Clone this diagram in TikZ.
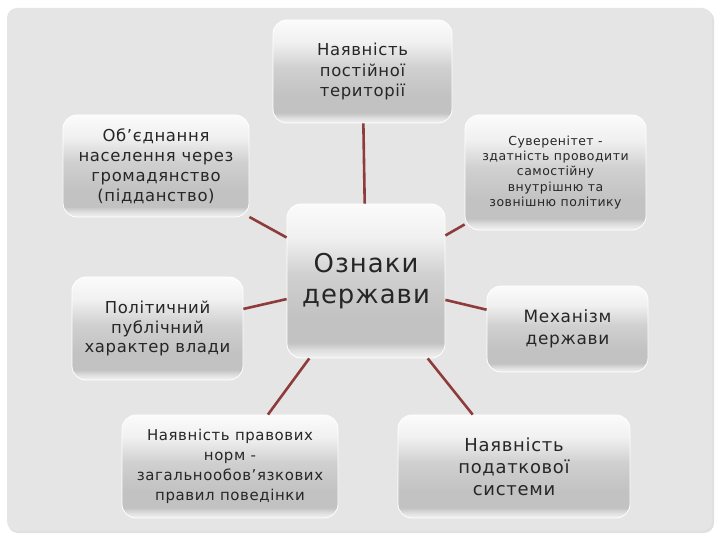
\documentclass[tikz,border=0pt]{standalone}
\usepackage{fontspec}
\setmainfont{DejaVu Sans}[LetterSpace=4]
\definecolor{bgc}{HTML}{E5E5E5}
\definecolor{linec}{HTML}{8E3B3B}
\definecolor{shTop}{HTML}{FBFBFB}
\definecolor{shMid}{HTML}{D0D0D0}
\definecolor{shLow}{HTML}{C2C2C2}
\definecolor{shBot}{HTML}{F2F2F2}
\pgfdeclareverticalshading{boxshade}{100bp}{%
  color(0bp)=(shBot); color(25bp)=(shBot); color(27.5bp)=(shBot!60!shLow); color(30bp)=(shLow);
  color(38bp)=(shLow); color(52bp)=(shMid); color(64bp)=(shTop!75!shMid);
  color(75bp)=(shTop); color(100bp)=(shTop)}
\tikzset{
  box/.style={draw=white, line width=0.8bp, rounded corners=14bp, shading=boxshade,
    align=center, inner sep=0pt, text=black!85},
  link/.style={draw=linec, line width=2.6bp},
}
\begin{document}
\begin{tikzpicture}[x=1bp,y=-1bp]
\useasboundingbox (0,0) rectangle (720,540);
\fill[white] (0,0) rectangle (720,540);
\fill[black!12, rounded corners=10bp] (8,10) rectangle (714,533);
\fill[bgc, rounded corners=10bp] (7,8) rectangle (712,531);

\node[box, minimum width=179bp, minimum height=103bp, font=\fontsize{16.5}{21}\selectfont] (terr) at (362.5,71.5) {Наявність\\постійної\\території};
\node[box, minimum width=186bp, minimum height=102bp, font=\fontsize{16.5}{20}\selectfont] (ob) at (156,166) {Об’єднання\\населення через\\громадянство\\(підданство)};
\node[box, minimum width=181bp, minimum height=115bp, font=\fontsize{12.5}{15.5}\selectfont] (suv) at (555.5,172.5) {Суверенітет -\\здатність проводити\\самостійну\\внутрішню та\\зовнішню політику};
\node[box, minimum width=158bp, minimum height=154bp, font=\fontsize{26}{31}\selectfont] (cen) at (366,281) {Ознаки\\держави};
\node[box, minimum width=171bp, minimum height=103bp, font=\fontsize{16.5}{20}\selectfont] (pol) at (157.5,328.5) {Політичний\\публічний\\характер влади};
\node[box, minimum width=216bp, minimum height=103bp, font=\fontsize{15}{20}\selectfont] (pr) at (230,466.5) {Наявність правових\\норм -\\загальнообов’язкових\\правил поведінки};
\node[box, minimum width=161bp, minimum height=86bp, font=\fontsize{17}{22}\selectfont] (mech) at (567.5,329) {Механізм\\держави};
\node[box, minimum width=232bp, minimum height=103bp, font=\fontsize{18}{22}\selectfont] (pod) at (514,466.5) {Наявність\\податкової\\системи};

\draw[link] (cen) -- (terr);
\draw[link] (cen) -- (ob);
\draw[link] (cen) -- (suv);
\draw[link] (cen) -- (pol);
\draw[link] (cen) -- (pr);
\draw[link] (cen) -- (mech);
\draw[link] (cen) -- (pod);
\end{tikzpicture}
\end{document}
